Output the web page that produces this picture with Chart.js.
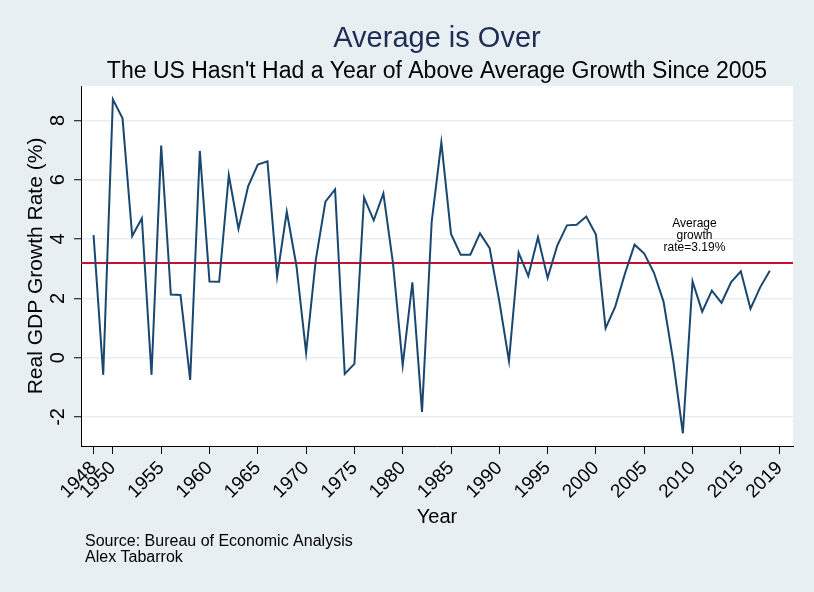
<!DOCTYPE html>
<html><head><meta charset="utf-8">
<script src="https://cdn.jsdelivr.net/npm/chart.js@4/dist/chart.umd.min.js"></script>
<style>html,body{margin:0;padding:0;background:#e8eff2}#wrap{width:814px;height:592px;position:relative}canvas{display:block}</style>
</head><body><div id="wrap"><canvas id="c" width="814" height="592" style="width:814px;height:592px"></canvas></div>
<script>
const years = [1948,1949,1950,1951,1952,1953,1954,1955,1956,1957,1958,1959,1960,1961,1962,1963,1964,1965,1966,1967,1968,1969,1970,1971,1972,1973,1974,1975,1976,1977,1978,1979,1980,1981,1982,1983,1984,1985,1986,1987,1988,1989,1990,1991,1992,1993,1994,1995,1996,1997,1998,1999,2000,2001,2002,2003,2004,2005,2006,2007,2008,2009,2010,2011,2012,2013,2014,2015,2016,2017,2018];
const growth = [4.13,-0.58,8.71,8.07,4.10,4.70,-0.58,7.15,2.13,2.11,-0.75,6.97,2.57,2.56,6.15,4.35,5.78,6.51,6.62,2.73,4.92,3.10,0.17,3.29,5.26,5.67,-0.55,-0.21,5.40,4.63,5.54,3.17,-0.26,2.54,-1.83,4.58,7.26,4.17,3.47,3.47,4.19,3.69,1.90,-0.11,3.54,2.75,4.06,2.69,3.78,4.46,4.48,4.76,4.15,0.99,1.72,2.83,3.81,3.51,2.87,1.89,-0.10,-2.55,2.57,1.55,2.26,1.85,2.55,2.91,1.65,2.37,2.93];
const averageGrowth = 3.19;
const xTickYears = [1948,1950,1955,1960,1965,1970,1975,1980,1985,1990,1995,2000,2005,2010,2015,2019];
const yTickValues = [-2,0,2,4,6,8];
const titleText = "Average is Over";
const subtitleText = "The US Hasn't Had a Year of Above Average Growth Since 2005";
const yAxisTitle = "Real GDP Growth Rate (%)";
const xAxisTitle = "Year";
const noteLines = ["Source: Bureau of Economic Analysis", "Alex Tabarrok"];
const avgLabelLines = ["Average", "growth", "rate=3.19%"];

const FONT = "'Liberation Sans', Arial, sans-serif";
const BG = '#e8eff2';

const decor = {
  id: 'decor',
  beforeDraw(chart) {
    const {ctx, chartArea: a} = chart;
    ctx.save();
    ctx.fillStyle = BG;
    ctx.fillRect(0, 0, chart.width, chart.height);
    ctx.fillStyle = '#ffffff';
    ctx.fillRect(a.left, a.top, a.right - a.left, a.bottom - a.top);
    ctx.restore();
  },
  beforeDatasetsDraw(chart) {
    const {ctx, chartArea: a, scales} = chart;
    const y = scales.y.getPixelForValue(averageGrowth);
    ctx.save();
    ctx.strokeStyle = '#c8102e';
    ctx.lineWidth = 2;
    ctx.beginPath();
    ctx.moveTo(a.left, y);
    ctx.lineTo(a.right, y);
    ctx.stroke();
    ctx.restore();
  },
  afterDraw(chart) {
    const {ctx, chartArea: a, scales} = chart;
    ctx.save();
    ctx.textAlign = 'center';
    ctx.textBaseline = 'middle';
    ctx.fillStyle = '#1e2d55';
    ctx.font = '29px ' + FONT;
    ctx.fillText(titleText, 437, 39);
    ctx.fillStyle = '#000';
    ctx.font = '23px ' + FONT;
    ctx.fillText(subtitleText, 437, 72);
    ctx.font = '20px ' + FONT;
    ctx.fillText(xAxisTitle, 437, 517);
    ctx.font = '20px ' + FONT;
    yTickValues.forEach(v => {
      const py = scales.y.getPixelForValue(v);
      ctx.save();
      ctx.translate(58, py);
      ctx.rotate(-Math.PI / 2);
      ctx.fillText(String(v), 0, 0);
      ctx.restore();
    });
    ctx.save();
    ctx.font = '21px ' + FONT;
    ctx.translate(36, 266);
    ctx.rotate(-Math.PI / 2);
    ctx.fillText(yAxisTitle, 0, 0);
    ctx.restore();
    ctx.font = '12px ' + FONT;
    const ax = scales.x.getPixelForValue(2010.2);
    avgLabelLines.forEach((t, i) => ctx.fillText(t, ax, 224 + i * 12));
    ctx.textAlign = 'left';
    ctx.font = '16px ' + FONT;
    noteLines.forEach((t, i) => ctx.fillText(t, 85, 542 + i * 16));
    ctx.restore();
  }
};

new Chart(document.getElementById('c'), {
  type: 'line',
  data: {
    datasets: [{
      data: years.map((yr, i) => ({x: yr, y: growth[i]})),
      borderColor: '#1a476f',
      borderWidth: 2,
      pointRadius: 0,
      tension: 0,
      fill: false
    }]
  },
  options: {
    responsive: false,
    maintainAspectRatio: false,
    animation: false,
    devicePixelRatio: 1,
    layout: {padding: {left: 0, top: 86, right: 21, bottom: 0}},
    plugins: {legend: {display: false}, tooltip: {enabled: false}},
    scales: {
      x: {
        type: 'linear', min: 1946.7, max: 2020.4,
        afterBuildTicks: s => { s.ticks = xTickYears.map(v => ({value: v})); },
        afterFit: s => { s.height = 146; },
        grid: {drawOnChartArea: false, drawTicks: true, tickLength: 8, tickColor: '#000', tickWidth: 1},
        border: {display: true, color: '#000', width: 1},
        ticks: {autoSkip: false, minRotation: 45, maxRotation: 45, padding: 3,
          color: '#000', font: {size: 19, family: FONT},
          callback: v => String(v)}
      },
      y: {
        type: 'linear', min: -2.98, max: 9.16,
        afterBuildTicks: s => { s.ticks = yTickValues.map(v => ({value: v})); },
        afterFit: s => { s.width = 81; },
        grid: {color: '#e6eef1', lineWidth: 1.5, drawTicks: true, tickLength: 7, tickColor: '#000', tickWidth: 1},
        border: {display: true, color: '#000', width: 1},
        ticks: {display: false}
      }
    }
  },
  plugins: [decor]
});
</script>
</body></html>
